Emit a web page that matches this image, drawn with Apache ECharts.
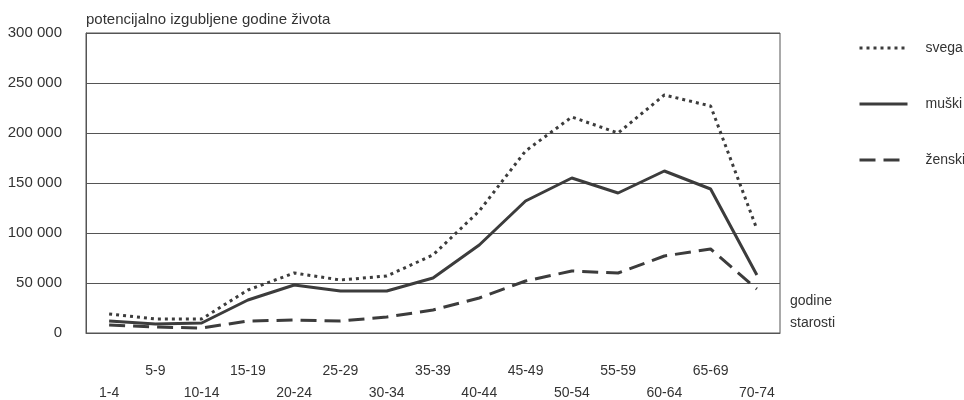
<!DOCTYPE html>
<html><head><meta charset="utf-8">
<script src="https://cdn.jsdelivr.net/npm/echarts@6/dist/echarts.min.js"></script>
<style>html,body{margin:0;padding:0;background:#fff}#c{width:964px;height:400px}</style>
</head><body><div id="c"></div>
<script>
const categories = ['1-4','5-9','10-14','15-19','20-24','25-29','30-34','35-39','40-44','45-49','50-54','55-59','60-64','65-69','70-74'];
const svega = [19000,14000,14000,43000,60000,53000,57000,78000,122000,182000,216000,200000,238000,227000,104000];
const muski = [12000,9000,10000,33000,48000,42000,42000,55000,88000,132000,155000,140000,162000,144000,58000];
const zenski = [8000,6000,5000,12000,13000,12000,16000,23000,35000,52000,62000,60000,77000,84000,44000];
const yTicks = [0,50000,100000,150000,200000,250000,300000];

const chart = echarts.init(document.getElementById('c'));
const font = 'Liberation Sans, Arial, sans-serif';
const lineColor = '#3c3c3c';
chart.setOption({
  animation: false,
  textStyle: {fontFamily: font},
  grid: {left: 86, right: 184, top: 33, bottom: 67, show: true, borderColor: '#555', borderWidth: 1,
         containLabel: false, outerBoundsMode: 'none'},
  legend: {
    orient: 'vertical', left: 858, top: 41, padding: 0, itemWidth: 48, itemHeight: 14, itemGap: 42,
    itemStyle: {opacity: 0},
    lineStyle: {width: 3},
    textStyle: {fontSize: 14, color: '#333', fontFamily: font, padding: [0,0,0,13]},
    data: ['svega','muški','ženski']
  },
  xAxis: {
    type: 'category', data: categories, boundaryGap: true,
    axisLine: {lineStyle: {color: '#555', width: 1}},
    axisTick: {show: false},
    axisLabel: {
      interval: 0, margin: 27, fontSize: 14, color: '#333', lineHeight: 22,
      formatter: (v, i) => (i % 2 === 1 ? v : '\n' + v)
    },
    name: 'godine\nstarosti', nameLocation: 'end', nameGap: 10,
    nameTextStyle: {fontSize: 14, color: '#333', lineHeight: 22, align: 'left', verticalAlign: 'bottom', padding: [0,0,-1,0]}
  },
  yAxis: {
    type: 'value', min: 0, max: 300000, interval: 50000,
    axisLine: {show: true, lineStyle: {color: '#555', width: 1}},
    axisTick: {show: false},
    splitLine: {lineStyle: {color: '#555', width: 1}},
    axisLabel: {fontSize: 15, color: '#333', margin: 24,
      formatter: v => yTicks.includes(v) ? String(v).replace(/\B(?=(\d{3})+(?!\d))/g, ' ') : ''},
    name: 'potencijalno izgubljene godine života', nameLocation: 'end', nameGap: 6,
    nameTextStyle: {fontSize: 15, color: '#333', align: 'left', padding: [0,0,0,0]}
  },
  series: [
    {name: 'svega', type: 'line', data: svega, symbol: 'none',
     lineStyle: {color: lineColor, width: 3, type: [3,4]}, itemStyle: {color: lineColor}},
    {name: 'muški', type: 'line', data: muski, symbol: 'none',
     lineStyle: {color: lineColor, width: 3, type: 'solid'}, itemStyle: {color: lineColor}},
    {name: 'ženski', type: 'line', data: zenski, symbol: 'none',
     lineStyle: {color: lineColor, width: 3, type: [16,8]}, itemStyle: {color: lineColor}}
  ]
});
</script></body></html>
